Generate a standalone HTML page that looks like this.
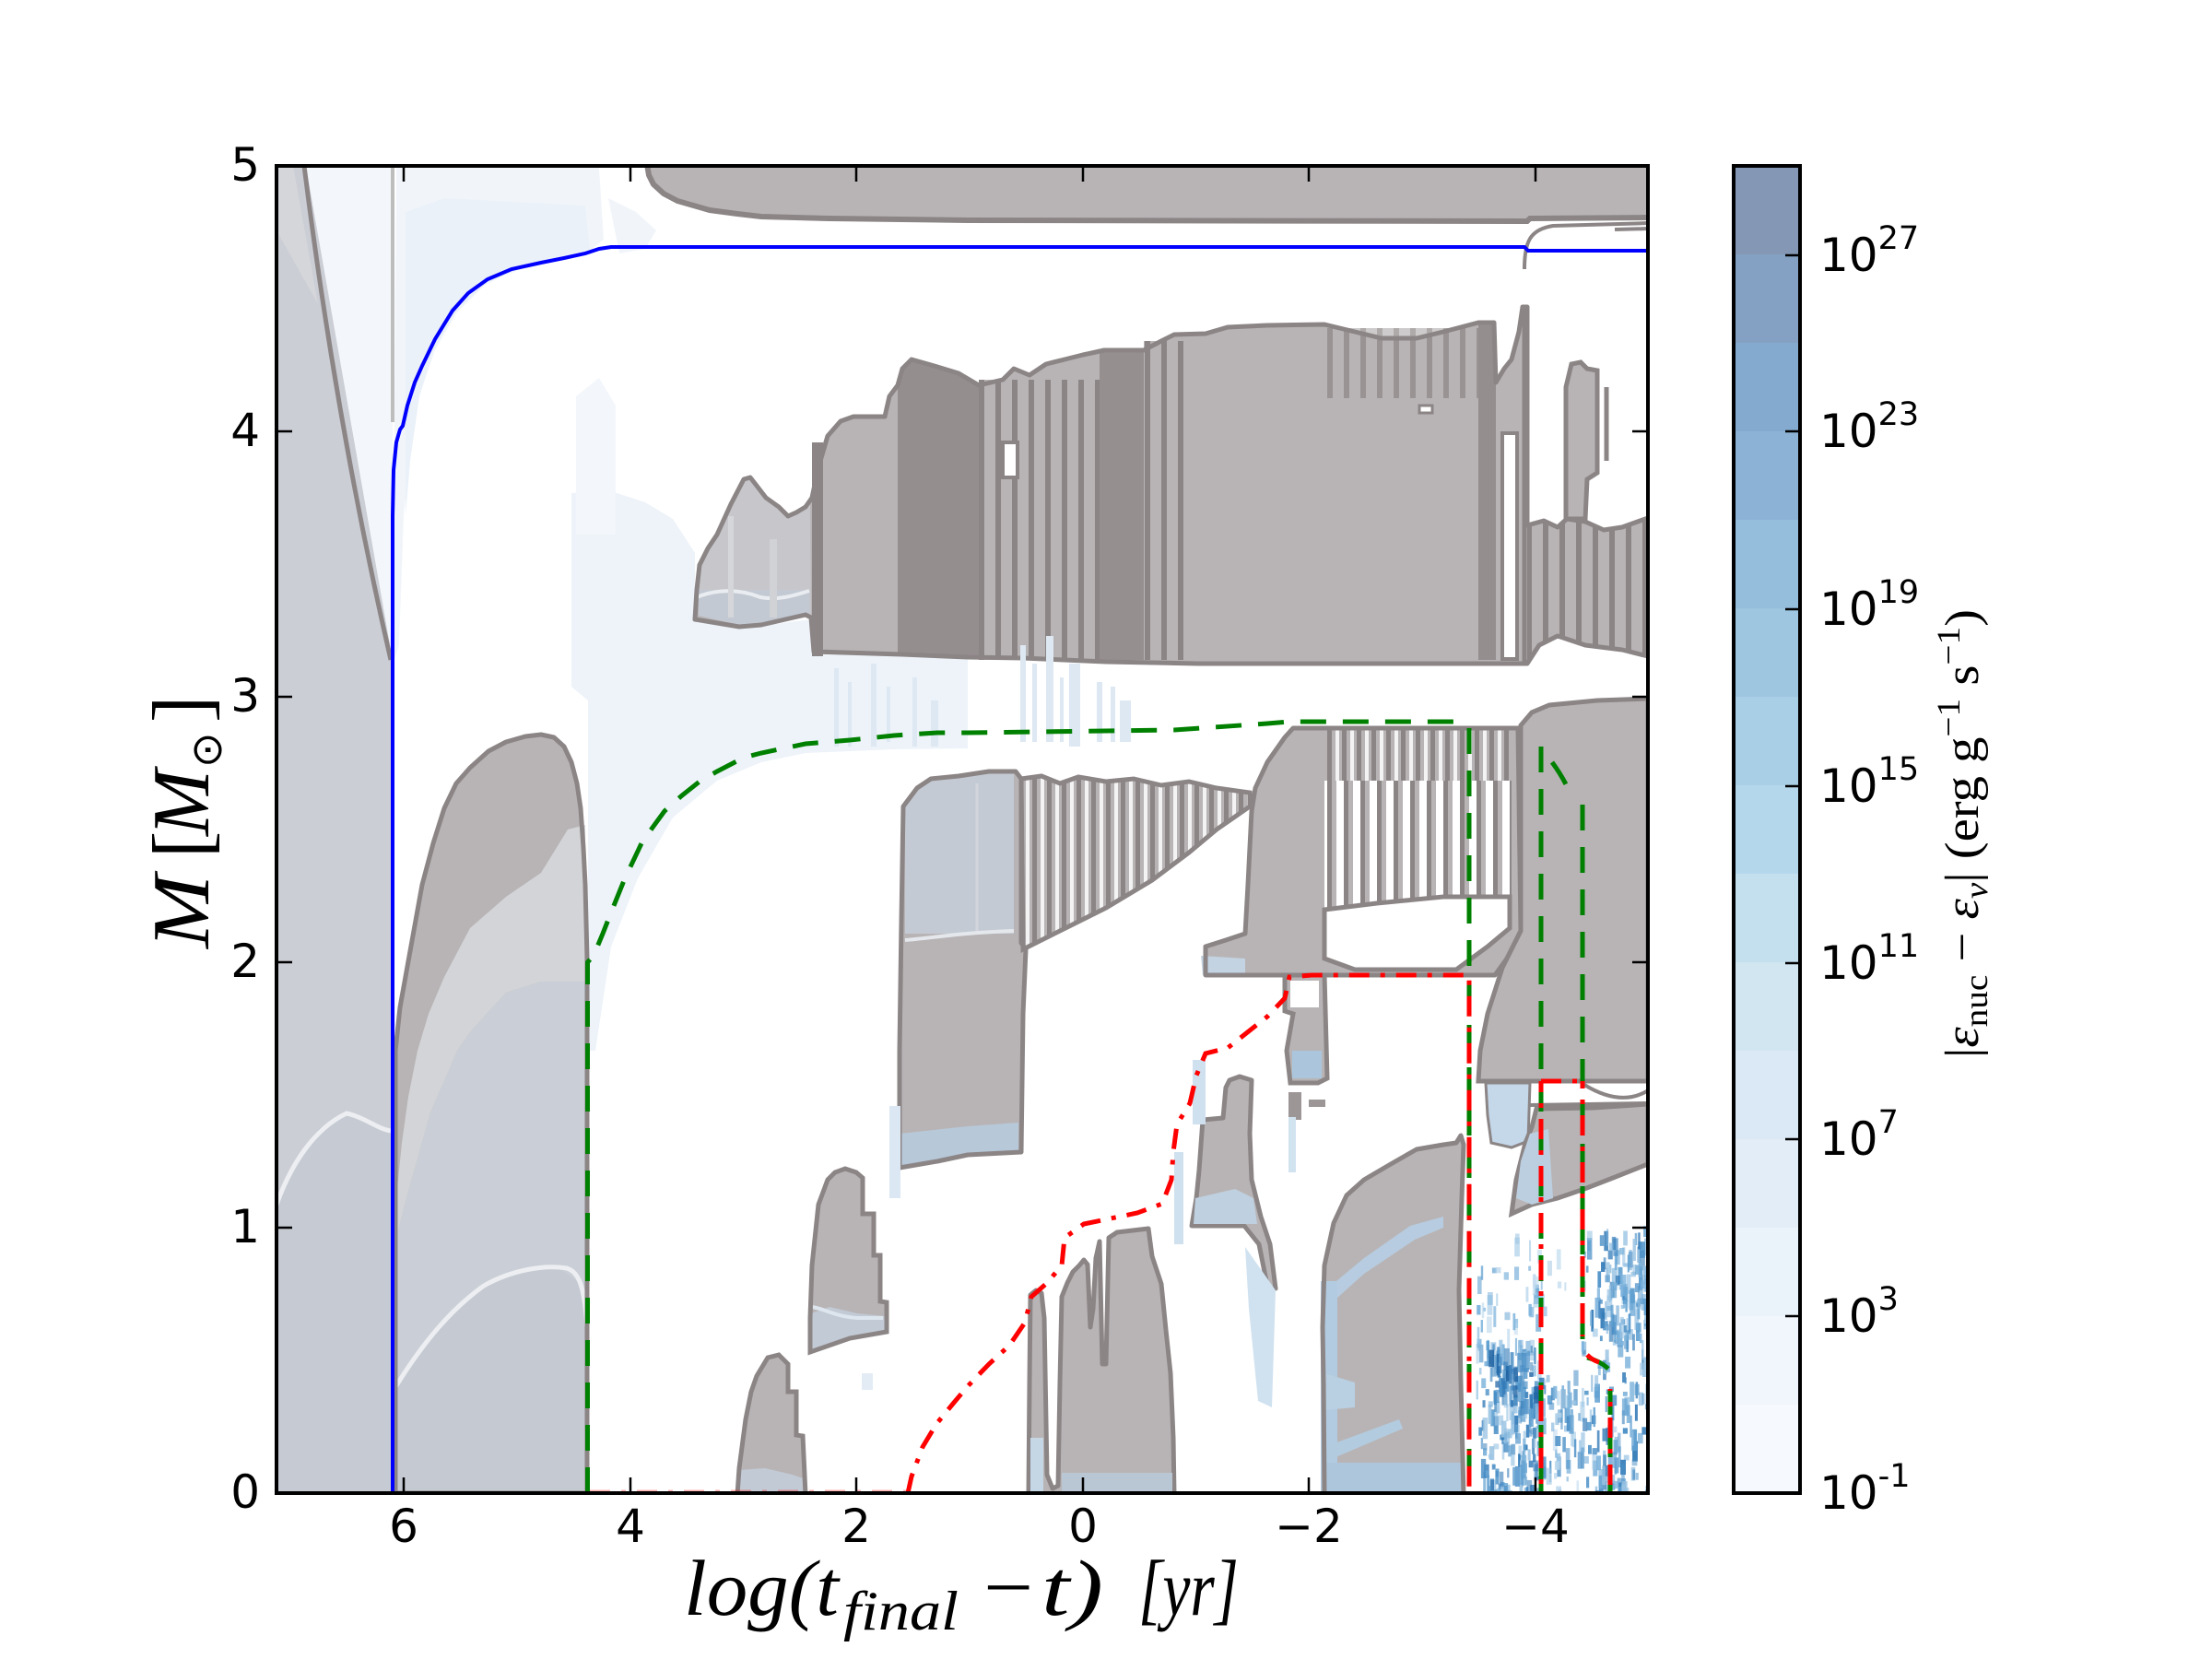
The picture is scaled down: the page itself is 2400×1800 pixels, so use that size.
<!DOCTYPE html>
<html><head><meta charset="utf-8">
<style>
html,body{margin:0;padding:0;background:#fff;}
svg{display:block;}
</style></head><body>
<svg xmlns="http://www.w3.org/2000/svg" width="2400" height="1800" viewBox="0 0 2400 1800">
<defs>
<clipPath id="ax"><rect x="300" y="180" width="1488" height="1440"/></clipPath>
<pattern id="stA" width="18" height="10" patternUnits="userSpaceOnUse"><rect width="18" height="10" fill="#b8b4b5"/><rect width="6" height="10" fill="#8c8586"/></pattern>
<pattern id="fr" width="16" height="10" patternUnits="userSpaceOnUse"><rect width="16" height="10" fill="#b8b4b5"/><rect x="0" width="5" height="10" fill="#8c8586"/><rect x="9" width="4" height="10" fill="#f4f3f3"/></pattern>
<pattern id="frL" width="18" height="10" patternUnits="userSpaceOnUse"><rect width="18" height="10" fill="#ffffff"/><rect x="0" width="5" height="10" fill="#8c8586"/><rect x="5" width="5" height="10" fill="#b8b4b5"/></pattern>
<polygon id="um" points="754,672 756,640 759,613 768,595 778,580 793,547 807,520 814,518 821,527 831,540 845,550 855,560 864,556 874,550 881,540 888,507 898,473 912,457 926,452 960,452 965,430 974,418 979,400 989,390 1017,398 1040,405 1062,418 1088,412 1100,400 1117,407 1135,395 1155,390 1175,385 1198,380 1241,380 1260,370 1274,363 1308,362 1332,355 1375,353 1437,352 1470,360 1499,367 1537,367 1566,360 1604,350 1621,350 1623,415 1632,400 1640,390 1648,360 1652,333 1657,333 1657,570 1675,565 1690,572 1700,563 1720,566 1740,575 1760,572 1788,562 1788,712 1760,705 1720,700 1690,690 1670,700 1657,720 1600,720 1300,720 1200,718 1110,714 1050,713 979,710 883,707 880,670 874,667 826,678 802,680"/>
<polygon id="ml" points="980,875 995,855 1010,845 1040,842 1073,837 1102,837 1108,845 1108,1023 1113,1030 1110,1100 1108,1250 1050,1253 1017,1260 976,1267 976,1140 978,1000"/>
<polygon id="mr" points="1308,1058 1308,1027 1330,1020 1351,1013 1354,960 1358,880 1362,855 1375,827 1394,800 1403,790 1647,790 1650,1010 1635,1040 1622,1058"/>
<polygon id="dome" points="429,1620 429,1140 434,1093 443,1043 458,960 470,915 482,877 495,850 510,833 530,815 549,805 570,799 587,797 601,800 612,810 620,827 626,850 630,877 633,920 635,960 637,1040 637,1620"/>
</defs>
<rect width="2400" height="1800" fill="#fff"/>

<g clip-path="url(#ax)">
<!-- pale regions -->
<polygon points="430,182 650,182 655,260 640,272 600,282 560,292 525,310 495,340 472,380 455,430 445,490 438,560 433,700 428,715 428,460" fill="#f1f5fa"/>
<polygon points="440,230 482,215 635,223 640,270 590,283 530,305 495,338 470,380 455,430 445,500 440,560" fill="#eaf1f8"/>
<polygon points="620,535 663,533 700,545 730,563 754,600 754,672 802,682 880,672 883,710 979,712 1050,715 1050,812 970,813 874,817 826,827 778,847 730,887 692,953 663,1027 646,1140 638,1140 638,760 620,745" fill="#edf3f9"/>
<polygon points="625,430 650,410 668,440 668,580 625,580" fill="#f3f6fa"/>
<polygon points="660,215 690,230 712,250 700,270 672,275" fill="#f1f5fa"/>

<!-- left strip -->
<polygon points="300,180 332,180 426,716 426,1620 300,1620" fill="#cbced5"/>
<polygon points="300,180 318,180 345,330 300,250" fill="#d4d6da"/>
<polygon points="332,180 426,180 426,716" fill="#f3f6fa"/>
<polygon points="300,1307 320,1260 345,1225 376,1208 400,1218 422,1227 426,1227 426,1620 300,1620" fill="#c5cad3"/>
<path d="M300,1307 C315,1265 340,1225 376,1208 C395,1212 410,1225 424,1227" stroke="#eceef1" stroke-width="5" fill="none"/>
<path d="M330,180 Q365,460 424,716" stroke="#8c8586" stroke-width="5" fill="none"/>
<line x1="426" y1="180" x2="426" y2="458" stroke="#bdbdbd" stroke-width="4"/>

<!-- dome -->
<use href="#dome" fill="#b8b4b5"/>
<polygon points="635,895 616,900 587,947 549,973 510,1007 482,1060 465,1100 453,1140 443,1190 436,1240 431,1290 431,1340 439,1307 453,1257 467,1207 482,1173 496,1140 510,1120 549,1077 587,1065 636,1065" fill="#d3d4d7"/>
<polygon points="431,1340 439,1307 453,1257 467,1207 482,1173 496,1140 510,1120 549,1077 587,1065 636,1065 636,1620 430,1620" fill="#cacfd7"/>
<polygon points="429,1507 460,1460 491,1423 525,1393 568,1378 606,1375 630,1393 637,1440 637,1620 429,1620" fill="#c4c9d2"/>
<path d="M429,1505 C460,1455 490,1420 525,1395 C555,1378 590,1372 615,1376 C628,1380 634,1395 637,1440" stroke="#eceef1" stroke-width="5" fill="none"/>
<use href="#dome" fill="none" stroke="#8c8586" stroke-width="5" stroke-linejoin="round"/>

<!-- top band -->
<path d="M702,180 L704,190 L709,200 L720,210 L735,218 L749,222 L770,228 L800,232 L826,235 L900,237 L1050,239 L1657,240 L1660,237 L1788,236 L1788,180 Z" fill="#b8b4b5"/>
<path d="M702,178 L704,190 L709,200 L720,210 L735,218 L749,222 L770,228 L800,232 L826,235 L900,237 L1050,239 L1657,240 L1660,237 L1790,236" fill="none" stroke="#8c8586" stroke-width="6"/>
<path d="M1654,292 C1654,262 1660,249 1685,245 L1790,242" fill="none" stroke="#8c8586" stroke-width="4"/>
<path d="M1752,249 L1790,248" stroke="#8c8586" stroke-width="4"/>

<!-- upper main convective region -->
<use href="#um" fill="#b8b4b5"/>
<polygon points="758,668 759,613 768,595 778,580 793,547 807,520 814,518 821,527 831,540 845,550 855,560 864,556 874,550 879,545 880,668 826,676 802,678" fill="#c7c7cb"/>
<polygon points="758,640 878,640 878,668 826,676 802,678 758,668" fill="#c3c9d2"/>
<path d="M756,648 C775,640 800,638 825,648 C845,652 865,645 878,641" stroke="#e9edf1" stroke-width="4" fill="none"/>
<rect x="790" y="560" width="6" height="110" fill="#d5d6da"/>
<rect x="835" y="585" width="8" height="85" fill="#d0d2d6"/>
<rect x="881" y="480" width="12" height="232" fill="#8c8586"/>
<polygon points="974,418 979,400 989,390 1017,398 1040,405 1062,418 1062,712 974,712" fill="#958e8f"/>
<rect x="1062" y="412" width="131" height="304" fill="url(#stA)"/>
<polygon points="1193,382 1210,380 1241,380 1241,716 1193,716" fill="#968f90"/>
<rect x="1241" y="370" width="50" height="346" fill="url(#stA)"/>
<rect x="1440" y="356" width="164" height="76" fill="url(#stA)" opacity="0.7"/>
<rect x="1604" y="350" width="19" height="366" fill="#958e8f"/>
<rect x="1630" y="470" width="16" height="245" fill="#fff" stroke="#8c8586" stroke-width="4"/>
<polygon points="1657,570 1675,565 1690,572 1700,563 1720,566 1740,575 1760,572 1788,562 1788,712 1760,705 1720,700 1690,690 1670,700 1657,720" fill="url(#stA)"/>
<rect x="1088" y="480" width="16" height="38" fill="#fff" stroke="#8c8586" stroke-width="4"/>
<rect x="1540" y="440" width="14" height="8" fill="#fff" stroke="#8c8586" stroke-width="3"/>
<use href="#um" fill="none" stroke="#8c8586" stroke-width="5" stroke-linejoin="round"/>
<polygon points="1699,563 1699,420 1705,395 1715,393 1722,400 1733,402 1733,513 1722,520 1720,563" fill="#b8b4b5" stroke="#8c8586" stroke-width="5"/>
<line x1="1743" y1="420" x2="1743" y2="500" stroke="#8c8586" stroke-width="5"/>
<line x1="1654" y1="333" x2="1654" y2="720" stroke="#8c8586" stroke-width="5"/>

<!-- pale streaks above the green line -->
<g fill="#dde8f3">
<rect x="1107" y="700" width="6" height="105"/><rect x="1120" y="720" width="5" height="85"/>
<rect x="1135" y="690" width="8" height="115"/><rect x="1150" y="735" width="4" height="70"/>
<rect x="1160" y="720" width="12" height="90"/><rect x="1190" y="740" width="6" height="65"/>
<rect x="1205" y="745" width="5" height="60"/><rect x="1215" y="760" width="12" height="45"/>
<rect x="905" y="725" width="5" height="85"/><rect x="920" y="740" width="4" height="70"/>
<rect x="945" y="720" width="6" height="90"/><rect x="962" y="745" width="4" height="60"/>
<rect x="990" y="735" width="5" height="75"/><rect x="1010" y="760" width="8" height="50"/>
</g>

<!-- middle-left region -->
<use href="#ml" fill="#b8b4b5"/>
<polygon points="982,876 995,856 1010,846 1040,843 1073,838 1100,838 1100,1013 982,1013" fill="#c4cad3"/>
<path d="M982,1020 C1010,1018 1040,1012 1100,1010" stroke="#e4e8ec" stroke-width="4" fill="none"/>
<polygon points="976,1230 1050,1222 1105,1218 1105,1250 1050,1253 1017,1260 976,1265" fill="#b7c8d9"/>
<use href="#ml" fill="none" stroke="#8c8586" stroke-width="5" stroke-linejoin="round"/>
<line x1="1060" y1="850" x2="1060" y2="1010" stroke="#d2d6dc" stroke-width="3"/>

<!-- hatch region -->
<polygon points="1108,845 1130,842 1150,850 1170,843 1200,848 1230,845 1260,852 1290,848 1320,855 1356,860 1356,875 1320,900 1290,925 1250,955 1200,985 1160,1005 1120,1025 1110,1030" fill="url(#fr)" stroke="#8c8586" stroke-width="5"/>

<!-- middle-right region -->
<use href="#mr" fill="#b8b4b5"/>
<rect x="1437" y="792" width="203" height="55" fill="url(#fr)"/>
<polygon points="1437,847 1640,847 1640,973 1566,973 1494,980 1437,987" fill="url(#frL)"/>
<polygon points="1437,987 1494,980 1566,973 1638,973 1638,1007 1614,1027 1580,1052 1470,1052 1437,1040" fill="#fff" stroke="#8c8586" stroke-width="5"/>
<polygon points="1303,1037 1351,1040 1351,1058 1305,1058" fill="#c3d3e2"/>
<use href="#mr" fill="none" stroke="#8c8586" stroke-width="5" stroke-linejoin="round"/>

<!-- right column -->
<polygon points="1650,1010 1650,787 1662,773 1681,765 1733,760 1788,758 1788,1173 1604,1173 1606,1140 1614,1100 1630,1050" fill="#b8b4b5" stroke="#8c8586" stroke-width="5"/>
<polygon points="1612,1175 1660,1175 1658,1238 1640,1245 1618,1240 1614,1210" fill="#c4d8ea" stroke="#8c8586" stroke-width="3"/>
<polygon points="1640,1317 1645,1280 1655,1240 1662,1223 1667,1203 1729,1202 1788,1198 1788,1263 1750,1278 1719,1290 1690,1300 1662,1307" fill="#b8b4b5" stroke="#8c8586" stroke-width="5"/>
<polygon points="1645,1300 1650,1260 1660,1230 1680,1225 1685,1300 1662,1307" fill="#bccfe0"/>
<path d="M1719,1177 Q1760,1202 1790,1182" stroke="#8c8586" stroke-width="4" fill="none"/>
<line x1="1660" y1="1199" x2="1790" y2="1197" stroke="#8c8586" stroke-width="4"/>

<!-- d1, d2 -->
<polygon points="879,1467 879,1430 881,1373 888,1307 898,1280 906,1272 917,1268 929,1272 936,1278 936,1317 948,1317 948,1362 955,1362 955,1412 962,1413 962,1445 922,1452" fill="#b8b4b5"/>
<polygon points="880,1425 900,1418 930,1425 960,1428 961,1445 922,1452 880,1466" fill="#c2cad5"/>
<path d="M881,1418 C895,1420 905,1428 930,1430 L958,1430" stroke="#dde6ee" stroke-width="4" fill="none"/>
<polygon points="879,1467 879,1430 881,1373 888,1307 898,1280 906,1272 917,1268 929,1272 936,1278 936,1317 948,1317 948,1362 955,1362 955,1412 962,1413 962,1445 922,1452" fill="none" stroke="#8c8586" stroke-width="5"/>
<rect x="965" y="1200" width="12" height="100" fill="#dbe7f2"/>
<rect x="935" y="1490" width="12" height="18" fill="#e3ecf5"/>
<polygon points="800,1620 802,1593 809,1540 815,1510 821,1493 833,1473 845,1470 855,1480 855,1510 864,1510 864,1557 871,1558 874,1620" fill="#b8b4b5"/>
<polygon points="800,1620 802,1595 830,1593 860,1600 874,1605 874,1620" fill="#c2cad5"/>
<polygon points="800,1622 802,1593 809,1540 815,1510 821,1493 833,1473 845,1470 855,1480 855,1510 864,1510 864,1557 871,1558 874,1622" fill="none" stroke="#8c8586" stroke-width="5"/>

<!-- f1 -->
<polygon points="1116,1622 1117,1500 1118,1405 1124,1400 1130,1403 1133,1430 1136,1600 1142,1615 1148,1612 1150,1500 1152,1407 1158,1392 1164,1380 1171,1373 1176,1367 1180,1372 1183,1440 1186,1420 1189,1365 1193,1347 1196,1480 1200,1480 1203,1343 1212,1337 1246,1333 1250,1363 1260,1393 1265,1443 1270,1490 1273,1560 1274,1622" fill="#b8b4b5" stroke="#8c8586" stroke-width="5" stroke-linejoin="round"/>
<rect x="1152" y="1598" width="120" height="22" fill="#b9c6d3"/>
<rect x="1118" y="1560" width="14" height="60" fill="#c5d6e5"/>
<!-- f2 -->
<polygon points="1293,1330 1298,1300 1301,1270 1305,1215 1327,1213 1330,1180 1334,1172 1345,1168 1358,1172 1356,1230 1358,1280 1368,1320 1378,1350 1384,1398 1376,1400 1366,1350 1350,1330" fill="#b8b4b5" stroke="#8c8586" stroke-width="5" stroke-linejoin="round"/>
<polygon points="1297,1300 1340,1290 1360,1300 1364,1328 1295,1328" fill="#bfd0e0"/>
<rect x="1294" y="1150" width="14" height="70" fill="#cfe0ee"/>
<rect x="1274" y="1250" width="10" height="100" fill="#cfe1ef"/>
<polygon points="1351,1353 1384,1400 1380,1527 1365,1520 1355,1420" fill="#d0e2f0"/>
<!-- f3 -->
<polygon points="1394,1058 1437,1058 1440,1170 1430,1175 1400,1175 1396,1140 1403,1100 1394,1097" fill="#b8b4b5" stroke="#8c8586" stroke-width="5"/>
<rect x="1400" y="1064" width="31" height="29" fill="#fff"/>
<rect x="1402" y="1140" width="32" height="30" fill="#abc6dc"/>
<rect x="1398" y="1185" width="14" height="30" fill="#9d9697"/>
<rect x="1420" y="1193" width="18" height="8" fill="#9d9697"/>
<rect x="1398" y="1212" width="8" height="60" fill="#d2e3f0"/>
<!-- f4 -->
<polygon points="1437,1622 1436,1500 1435,1440 1437,1373 1447,1327 1461,1297 1480,1280 1509,1263 1537,1247 1566,1242 1580,1240 1585,1232 1588,1242 1586,1300 1583,1400 1585,1500 1588,1622" fill="#b8b4b5"/>
<polygon points="1438,1400 1480,1365 1530,1330 1566,1320 1566,1332 1535,1345 1480,1382 1440,1418" fill="#b7cce0"/>
<rect x="1433" y="1390" width="18" height="230" fill="#b3cbe0"/>
<polygon points="1437,1490 1470,1500 1470,1527 1437,1530" fill="#b9cfe2"/>
<polygon points="1437,1570 1518,1540 1522,1550 1440,1585" fill="#b3cbdf"/>
<rect x="1437" y="1587" width="150" height="33" fill="#aec6dc"/>
<polygon points="1437,1622 1436,1500 1435,1440 1437,1373 1447,1327 1461,1297 1480,1280 1509,1263 1537,1247 1566,1242 1580,1240 1585,1232 1588,1242 1586,1300 1583,1400 1585,1500 1588,1622" fill="none" stroke="#8c8586" stroke-width="5" stroke-linejoin="round"/>

<!-- speckles -->
<g id="speck"></g>

<!-- lines -->
<path d="M426,1622 L426,560 L427,510 L430,480 L434,466 L437,462 L442,440 L450,415 L458,397 L472,368 L491,337 L508,318 L529,303 L555,292 L587,285 L612,280 L635,275 L650,270 L663,268 L1654,268 L1658,272 L1790,272" fill="none" stroke="#0000ff" stroke-width="4"/>
<g fill="none" stroke="#008000" stroke-width="5" stroke-dasharray="28,18">
<path d="M637.5,1620 L637.5,1044 L644,1037 L654,1013 L663,990 L678,953 L697,913 L721,880 L740,863 L759,848 L778,837 L807,822 L826,817 L874,807 L922,803 L970,798 L1017,795 L1050,795 L1274,792 L1375,785 L1399,783 L1580,783"/>
<path d="M1594,790 L1594,1620"/>
<path d="M1672,1620 L1672,808"/>
<path d="M1684,827 Q1695,842 1702,857"/>
<path d="M1717,873 L1717,1460"/>
<path d="M1722,1473 Q1735,1476 1745,1485"/>
<path d="M1747,1507 L1747,1620"/>
</g>
<g fill="none" stroke="#ff0000" stroke-width="5" stroke-dasharray="22,12,5,12">
<path d="M985,1620 L989,1602 L1001,1570 L1016,1545 L1034,1523 L1050,1504 L1073,1480 L1095,1460 L1112,1435 L1119,1407 L1136,1392 L1152,1373 L1155,1343 L1176,1328 L1205,1322 L1234,1316 L1261,1306 L1271,1280 L1273,1250 L1277,1220 L1291,1197 L1298,1167 L1308,1143 L1332,1137 L1375,1103 L1394,1083 L1399,1060 L1423,1058 L1594,1058 L1594,1620"/>
<path d="M1672,1173 L1672,1620" stroke-dashoffset="10"/>
<path d="M1672,1173 L1717,1173"/>
<path d="M1717,1173 L1717,1450" stroke-dashoffset="14"/>
<path d="M1722,1470 Q1728,1476 1735,1478"/>
<path d="M1747,1507 L1747,1620" stroke-dashoffset="20"/>
<path d="M640,1619 L985,1619" opacity="0.3"/>
</g>
</g>

<!-- axes frame and ticks -->
<rect x="300" y="180" width="1488" height="1440" fill="none" stroke="#000" stroke-width="4"/>
<g stroke="#000" stroke-width="2.5">
<line x1="438" y1="1620" x2="438" y2="1603"/><line x1="438" y1="180" x2="438" y2="197"/>
<line x1="684" y1="1620" x2="684" y2="1603"/><line x1="684" y1="180" x2="684" y2="197"/>
<line x1="929" y1="1620" x2="929" y2="1603"/><line x1="929" y1="180" x2="929" y2="197"/>
<line x1="1175" y1="1620" x2="1175" y2="1603"/><line x1="1175" y1="180" x2="1175" y2="197"/>
<line x1="1420" y1="1620" x2="1420" y2="1603"/><line x1="1420" y1="180" x2="1420" y2="197"/>
<line x1="1666" y1="1620" x2="1666" y2="1603"/><line x1="1666" y1="180" x2="1666" y2="197"/>
<line x1="300" y1="1332" x2="317" y2="1332"/><line x1="1788" y1="1332" x2="1771" y2="1332"/>
<line x1="300" y1="1044" x2="317" y2="1044"/><line x1="1788" y1="1044" x2="1771" y2="1044"/>
<line x1="300" y1="756" x2="317" y2="756"/><line x1="1788" y1="756" x2="1771" y2="756"/>
<line x1="300" y1="468" x2="317" y2="468"/><line x1="1788" y1="468" x2="1771" y2="468"/>
</g>

<g font-family="'DejaVu Sans','Liberation Sans',sans-serif" font-size="50" fill="#000">
<g text-anchor="middle">
<text x="438" y="1673">6</text>
<text x="684" y="1673">4</text>
<text x="929" y="1673">2</text>
<text x="1175" y="1673">0</text>
<text x="1420" y="1673">−2</text>
<text x="1666" y="1673">−4</text>
</g>
<g text-anchor="end">
<text x="282" y="1636">0</text>
<text x="282" y="1348">1</text>
<text x="282" y="1060">2</text>
<text x="282" y="772">3</text>
<text x="282" y="484">4</text>
<text x="282" y="196">5</text>
</g>
</g>

<!-- x label -->
<g font-family="'Liberation Serif','DejaVu Serif',serif" fill="#000">
<text x="742" y="1752" font-size="86" font-style="italic" textLength="168" lengthAdjust="spacingAndGlyphs">log(t</text>
<text x="915" y="1768" font-size="60" font-style="italic" textLength="125" lengthAdjust="spacingAndGlyphs">final</text>
<text x="1067" y="1751" font-size="86" textLength="54" lengthAdjust="spacingAndGlyphs">−</text>
<text x="1130" y="1752" font-size="86" font-style="italic" textLength="67" lengthAdjust="spacingAndGlyphs">t)</text>
<text x="1235" y="1752" font-size="86" font-style="italic" textLength="109" lengthAdjust="spacingAndGlyphs">[yr]</text>
</g>

<!-- y label -->
<g transform="translate(226,1029) rotate(-90)" font-family="'Liberation Serif','DejaVu Serif',serif" fill="#000">
<text x="0" y="0" font-size="88" font-style="italic" textLength="80" lengthAdjust="spacingAndGlyphs">M</text>
<text x="98" y="0" font-size="88">[</text>
<text x="122" y="0" font-size="88" font-style="italic" textLength="72" lengthAdjust="spacingAndGlyphs">M</text>
<text x="196" y="14" font-size="46" font-family="'DejaVu Sans',sans-serif">⊙</text>
<text x="245" y="0" font-size="88">]</text>
</g>

<!-- colorbar -->
<g>
<rect x="1881" y="1524" width="72" height="96" fill="#f6f9fd"/>
<rect x="1881" y="1428" width="72" height="96" fill="#f1f6fc"/>
<rect x="1881" y="1332" width="72" height="96" fill="#eaf2fa"/>
<rect x="1881" y="1236" width="72" height="96" fill="#e3edf7"/>
<rect x="1881" y="1140" width="72" height="96" fill="#dbe9f6"/>
<rect x="1881" y="1044" width="72" height="96" fill="#d1e6f1"/>
<rect x="1881" y="948" width="72" height="96" fill="#c4dfee"/>
<rect x="1881" y="852" width="72" height="96" fill="#b5d7eb"/>
<rect x="1881" y="756" width="72" height="96" fill="#a9cfe6"/>
<rect x="1881" y="660" width="72" height="96" fill="#9ec6e1"/>
<rect x="1881" y="564" width="72" height="96" fill="#95bddc"/>
<rect x="1881" y="468" width="72" height="96" fill="#8cb3d6"/>
<rect x="1881" y="372" width="72" height="96" fill="#85aacf"/>
<rect x="1881" y="276" width="72" height="96" fill="#84a1c3"/>
<rect x="1881" y="180" width="72" height="96" fill="#8498b5"/>
<rect x="1881" y="180" width="72" height="1440" fill="none" stroke="#000" stroke-width="4"/>
<g stroke="#000" stroke-width="2.5">
<line x1="1953" y1="1428" x2="1937" y2="1428"/>
<line x1="1953" y1="1236" x2="1937" y2="1236"/>
<line x1="1953" y1="1045" x2="1937" y2="1045"/>
<line x1="1953" y1="853" x2="1937" y2="853"/>
<line x1="1953" y1="661" x2="1937" y2="661"/>
<line x1="1953" y1="468" x2="1937" y2="468"/>
<line x1="1953" y1="277" x2="1937" y2="277"/>
</g>
<g font-family="'DejaVu Sans','Liberation Sans',sans-serif" fill="#000">
<text x="1974" y="294" font-size="50">10<tspan font-size="35" dy="-24">27</tspan></text>
<text x="1974" y="485" font-size="50">10<tspan font-size="35" dy="-24">23</tspan></text>
<text x="1974" y="678" font-size="50">10<tspan font-size="35" dy="-24">19</tspan></text>
<text x="1974" y="870" font-size="50">10<tspan font-size="35" dy="-24">15</tspan></text>
<text x="1974" y="1062" font-size="50">10<tspan font-size="35" dy="-24">11</tspan></text>
<text x="1974" y="1253" font-size="50">10<tspan font-size="35" dy="-24">7</tspan></text>
<text x="1974" y="1445" font-size="50">10<tspan font-size="35" dy="-24">3</tspan></text>
<text x="1974" y="1637" font-size="50">10<tspan font-size="35" dy="-24">-1</tspan></text>
</g>
<g transform="translate(2146,1148) rotate(-90)" fill="#000">
<text x="0" y="0" font-family="'Liberation Serif','DejaVu Serif',serif" font-size="52" textLength="487" lengthAdjust="spacingAndGlyphs">|<tspan font-style="italic">ε</tspan><tspan font-size="36" dy="10">nuc</tspan><tspan dy="-10"> − </tspan><tspan font-style="italic">ε</tspan><tspan font-style="italic" font-size="36" dy="10">ν</tspan><tspan dy="-10">| (erg g</tspan><tspan font-size="36" dy="-20">−1</tspan><tspan dy="20"> s</tspan><tspan font-size="36" dy="-20">−1</tspan><tspan dy="20">)</tspan></text>
</g>
</g>
</svg>
<script>
(function(){
var g=document.getElementById('speck');
var s=424242;
function r(){s=(s*16807)%2147483647;return (s-1)/2147483646;}
var cols=['#1f63a3','#2f78b6','#4a8fc6','#5f9fd0','#7db3dc','#9cc5e4','#b8d6ec'];
function area(x0,x1,y0,y1,n,off,span){
 for(var i=0;i<n;i++){
  var x=x0+r()*(x1-x0), y=y0+r()*(y1-y0);
  var w=2+r()*4, h=4+r()*20;
  var c=cols[Math.min(6,off+Math.floor(r()*span))];
  var e=document.createElementNS('http://www.w3.org/2000/svg','rect');
  e.setAttribute('x',x.toFixed(1));
  e.setAttribute('y',y.toFixed(1));
  e.setAttribute('width',w.toFixed(1));
  e.setAttribute('height',h.toFixed(1));
  e.setAttribute('fill',c);
  e.setAttribute('opacity',(0.5+r()*0.45).toFixed(2));
  g.appendChild(e);
 }
}
area(1600,1670,1450,1618,190,1,5);
area(1615,1665,1460,1520,30,0,3);
area(1600,1670,1370,1450,30,3,4);
area(1670,1715,1480,1618,60,2,5);
area(1715,1788,1330,1618,220,1,5);
area(1740,1788,1330,1450,40,2,4);
area(1640,1700,1330,1420,15,4,3);
})();
</script>
</body></html>
